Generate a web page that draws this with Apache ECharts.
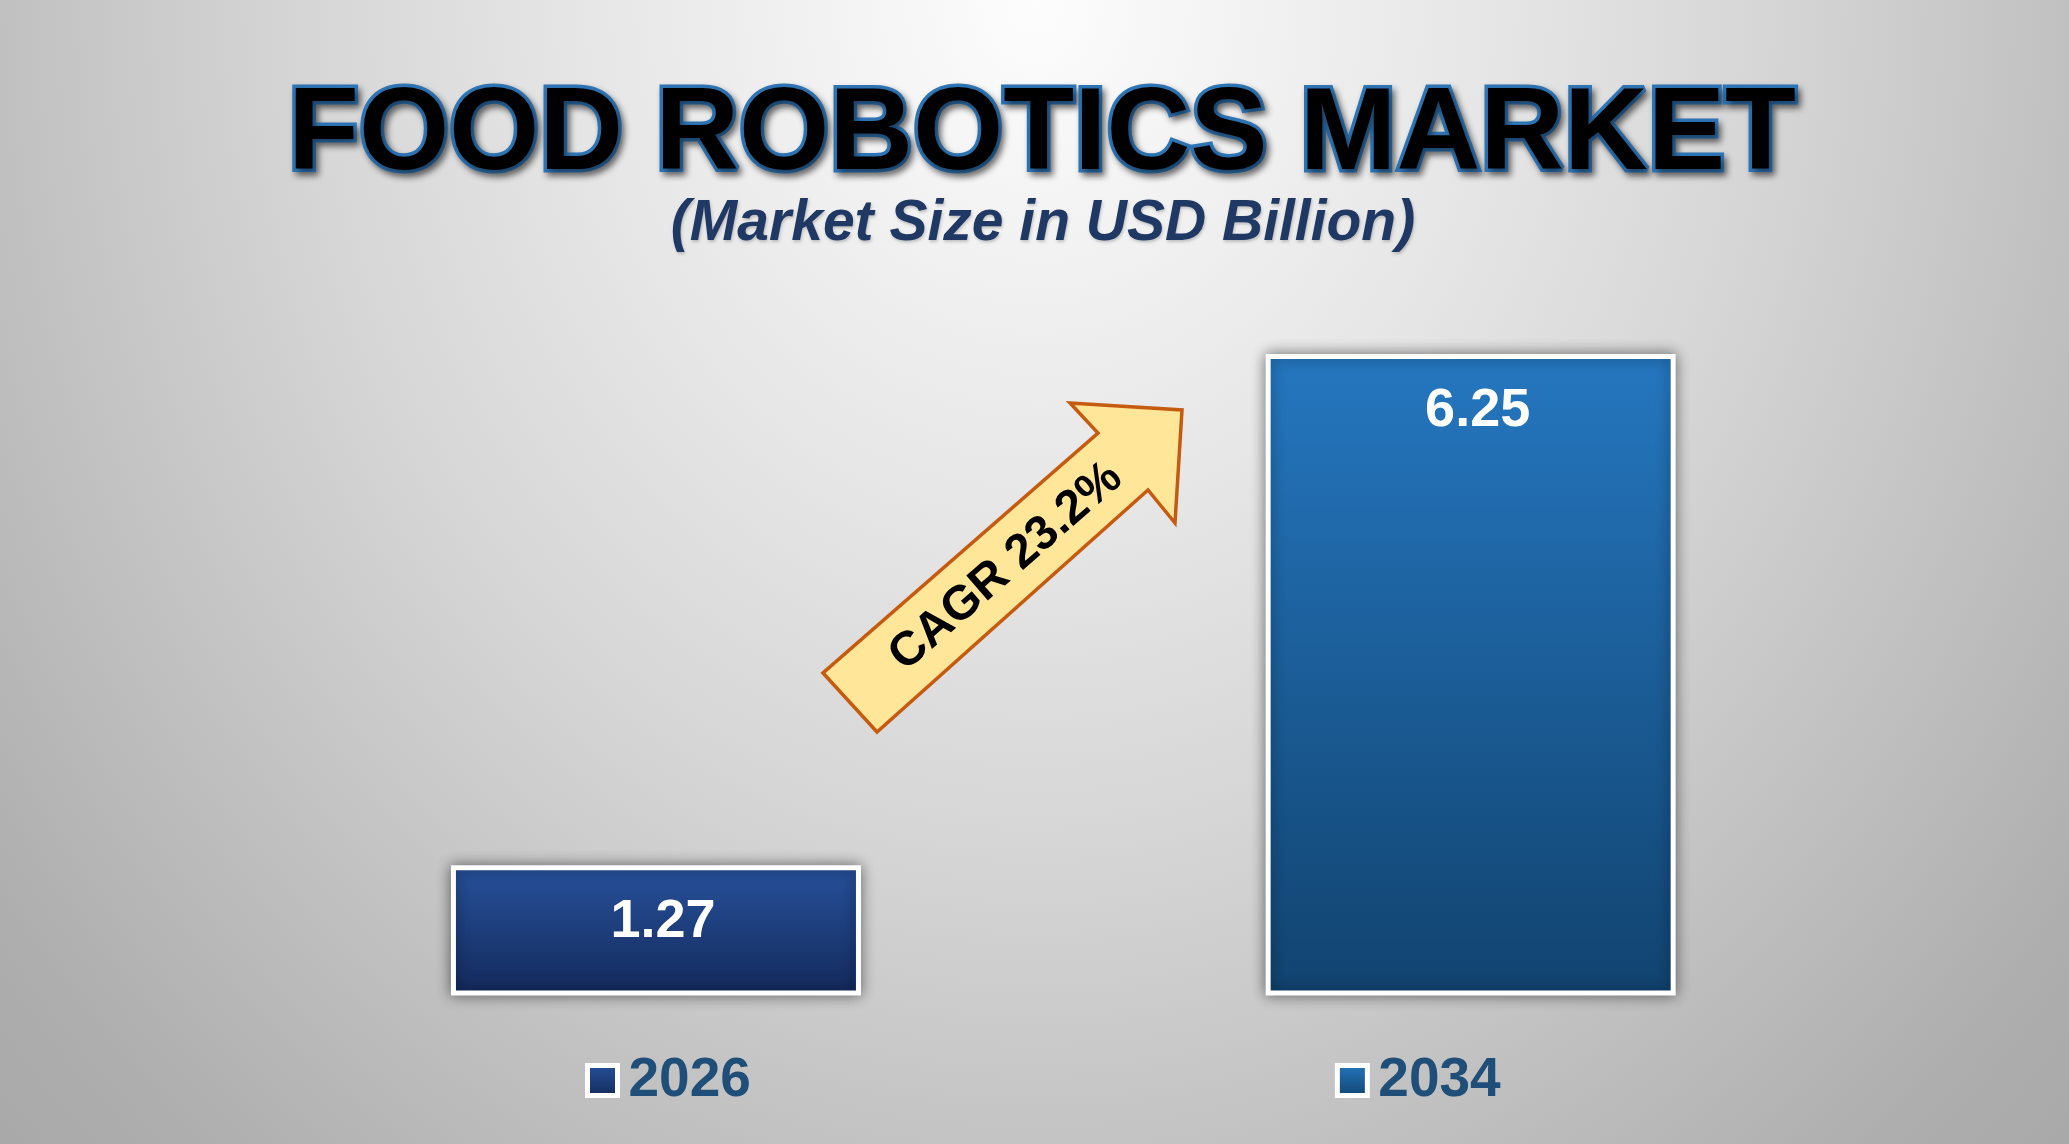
<!DOCTYPE html>
<html>
<head>
<meta charset="utf-8">
<script src="https://cdn.jsdelivr.net/npm/echarts@6/dist/echarts.min.js"></script>
<style>
html,body{margin:0;padding:0;width:100%;height:100%;overflow:hidden;}
#c{width:2069px;height:1144px;}
</style>
</head>
<body>
<div id="c"></div>
<script>
// ---- data ----
const categories = ['2026', '2034'];
const values = [1.27, 6.25];
const titleText = 'FOOD ROBOTICS MARKET';
const subtitleText = '(Market Size in USD Billion)';
const cagrText = 'CAGR 23.2%';

const FONT = "'Liberation Sans', Arial, sans-serif";
const barGradients = [
  ['#27519b', '#132a5b'],
  ['#2577c0', '#11436f']
];

const chart = echarts.init(document.getElementById('c'));

const series = categories.map((name, i) => ({
  name: name,
  type: 'bar',
  barWidth: 410,
  barGap: '-100%',
  data: categories.map((c, j) => (j === i ? values[i] : '-')),
  itemStyle: {
    color: {
      type: 'linear', x: 0, y: 0, x2: 0, y2: 1,
      colorStops: [
        { offset: 0, color: barGradients[i][0] },
        { offset: 1, color: barGradients[i][1] }
      ]
    },
    borderColor: '#ffffff',
    borderWidth: 5,
    shadowBlur: 14,
    shadowColor: 'rgba(0,0,0,0.45)',
    shadowOffsetX: 0,
    shadowOffsetY: 0
  },
  label: {
    show: true,
    position: 'insideTop',
    distance: 30,
    offset: [7, 0],
    color: '#ffffff',
    fontFamily: FONT,
    fontWeight: 'bold',
    fontSize: 54
  },
  emphasis: { disabled: true }
}));

// arrow outline (decoration)
const arrowPts = [
  [823, 673], [877, 732], [1148, 490], [1175, 523],
  [1182, 410], [1070, 403], [1098, 433]
];

const bgScaleY = 1500 / 1300;

const option = {
  animation: false,
  backgroundColor: '#c8c8c8',
  title: [
    {
      text: titleText,
      left: 1042, top: 79, textAlign: 'center', padding: 0,
      textStyle: {
        fontFamily: FONT, fontWeight: 'bold', fontSize: 116, color: '#000000',
        textBorderColor: '#2e75b6', textBorderWidth: 7,
        textShadowColor: 'rgba(0,0,0,0.45)', textShadowBlur: 6,
        textShadowOffsetX: 3, textShadowOffsetY: 4
      }
    },
    {
      text: subtitleText,
      left: 1043, top: 196, textAlign: 'center', padding: 0,
      textStyle: {
        fontFamily: FONT, fontWeight: 'bold', fontStyle: 'italic',
        fontSize: 57, color: '#1f3864',
        textShadowColor: 'rgba(0,0,0,0.2)', textShadowBlur: 3,
        textShadowOffsetX: 1, textShadowOffsetY: 2
      }
    }
  ],
  legend: {
    data: categories,
    left: 580,
    top: 1048,
    itemWidth: 30,
    itemHeight: 30,
    itemGap: 584,
    icon: 'rect',
    selectedMode: false,
    itemStyle: { borderColor: '#ffffff', borderWidth: 5, shadowBlur: 0, shadowColor: 'transparent' },
    textStyle: {
      fontFamily: FONT, fontWeight: 'bold', fontSize: 55, color: '#1f4e79',
      padding: [0, 0, 0, 6]
    }
  },
  grid: { left: 248.6, right: 191, top: 277, bottom: 148.5 },
  xAxis: {
    type: 'category',
    data: categories,
    axisLine: { show: false },
    axisTick: { show: false },
    axisLabel: { show: false },
    splitLine: { show: false }
  },
  yAxis: {
    type: 'value', min: 0, max: 7, show: false,
    splitLine: { show: false }
  },
  series: series,
  graphic: [
    {
      type: 'rect', silent: true, z: -100,
      x: 0, y: 0, scaleY: bgScaleY,
      shape: { x: 0, y: 0, width: 2069, height: 1144 / bgScaleY + 2 },
      style: {
        fill: {
          type: 'radial', x: 1035, y: 0, r: 1560, global: true,
          colorStops: [
            { offset: 0, color: '#fdfdfd' },
            { offset: 0.29, color: '#e6e6e6' },
            { offset: 0.467, color: '#d6d6d6' },
            { offset: 0.64, color: '#c3c3c3' },
            { offset: 0.833, color: '#aeaeae' },
            { offset: 1, color: '#a4a4a4' }
          ]
        }
      }
    },
    {
      type: 'polygon', silent: true, z: 50,
      shape: { points: arrowPts },
      style: { fill: '#ffe699', stroke: '#c55a11', lineWidth: 3.5, lineJoin: 'miter' }
    },
    {
      type: 'text', silent: true, z: 51,
      x: 1006, y: 567,
      rotation: 41 * Math.PI / 180,
      style: {
        text: cagrText,
        fill: '#000000',
        font: "bold 48px 'Liberation Sans', Arial, sans-serif",
        textAlign: 'center',
        textVerticalAlign: 'middle'
      }
    }
  ]
};

chart.setOption(option);
</script>
</body>
</html>
